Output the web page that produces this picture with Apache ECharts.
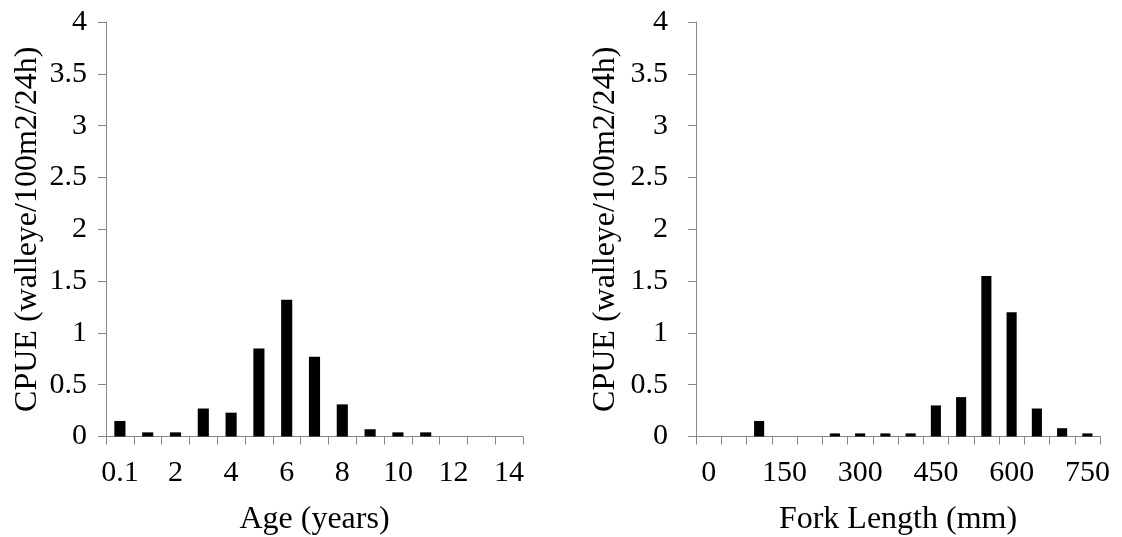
<!DOCTYPE html>
<html>
<head>
<meta charset="utf-8">
<style>
  html, body { margin: 0; padding: 0; background: #fff; }
  #chart { width: 1122px; height: 537px; }
</style>
<script src="https://cdn.jsdelivr.net/npm/echarts@6/dist/echarts.min.js"></script>
</head>
<body>
<div id="chart"></div>
<script>
// Walleye catch per unit effort by age class and by fork-length class
const ageLabels = ['0.1', '1', '2', '3', '4', '5', '6', '7', '8', '9', '10', '11', '12', '13', '14'];
const ageCpue = [0.15, 0.04, 0.04, 0.27, 0.23, 0.85, 1.32, 0.77, 0.31, 0.07, 0.04, 0.04, 0, 0, 0];

const lengthLabels = ['0', '50', '100', '150', '200', '250', '300', '350', '400', '450', '500', '550', '600', '650', '700', '750'];
const lengthCpue = [0, 0, 0.15, 0, 0, 0.03, 0.03, 0.03, 0.03, 0.30, 0.38, 1.55, 1.20, 0.27, 0.08, 0.03];

const yTitle = 'CPUE (walleye/100m2/24h)';
const ageTitle = 'Age (years)';
const lengthTitle = 'Fork Length (mm)';

const FONT = '"Liberation Serif", "Times New Roman", serif';
const AXIS_GRAY = '#868686';

function xAxisFor(gridIndex, labels, title, labelInterval) {
  return {
    type: 'category',
    gridIndex: gridIndex,
    data: labels,
    boundaryGap: true,
    name: title,
    nameLocation: 'middle',
    nameGap: 67,
    nameTextStyle: { fontFamily: FONT, fontSize: 32, color: '#000' },
    axisLine: { show: true, lineStyle: { color: AXIS_GRAY, width: 1 } },
    axisTick: { show: true, interval: 0, length: 8, lineStyle: { color: AXIS_GRAY } },
    axisLabel: { interval: labelInterval, margin: 22, fontFamily: FONT, fontSize: 30, color: '#000' },
    splitLine: { show: false }
  };
}

function yAxisFor(gridIndex, labelMargin, titleGap) {
  return {
    type: 'value',
    gridIndex: gridIndex,
    min: 0,
    max: 4,
    interval: 0.5,
    name: yTitle,
    nameLocation: 'middle',
    nameGap: titleGap,
    nameTextStyle: { fontFamily: FONT, fontSize: 32, color: '#000' },
    axisLine: { show: true, lineStyle: { color: AXIS_GRAY, width: 1 } },
    axisTick: { show: true, length: 8, lineStyle: { color: AXIS_GRAY } },
    axisLabel: { margin: labelMargin, fontFamily: FONT, fontSize: 30, color: '#000' },
    splitLine: { show: false }
  };
}

const chart = echarts.init(document.getElementById('chart'), null, { renderer: 'canvas' });
chart.setOption({
  backgroundColor: '#fff',
  animation: false,
  grid: [
    { left: 106, top: 22, width: 417, height: 414.5, containLabel: false, outerBoundsMode: 'none' },
    { left: 696, top: 22, width: 404, height: 414.5, containLabel: false, outerBoundsMode: 'none' }
  ],
  xAxis: [
    xAxisFor(0, ageLabels, ageTitle, 1),
    xAxisFor(1, lengthLabels, lengthTitle, 2)
  ],
  yAxis: [yAxisFor(0, 19, 62), yAxisFor(1, 28, 74)],
  series: [
    {
      type: 'bar',
      xAxisIndex: 0,
      yAxisIndex: 0,
      data: ageCpue,
      barWidth: '40%',
      itemStyle: { color: '#000' }
    },
    {
      type: 'bar',
      xAxisIndex: 1,
      yAxisIndex: 1,
      data: lengthCpue,
      barWidth: '40%',
      itemStyle: { color: '#000' }
    }
  ]
});
</script>
</body>
</html>
